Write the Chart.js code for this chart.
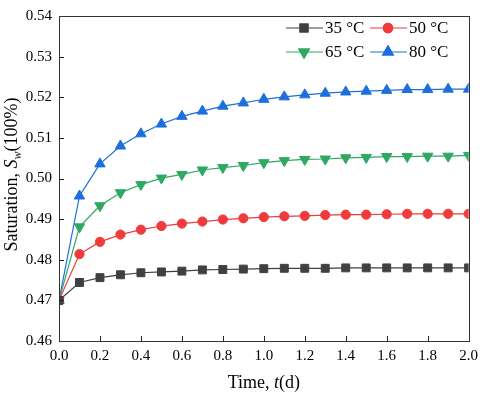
<!DOCTYPE html>
<html>
<head>
<meta charset="utf-8">
<script src="https://cdn.jsdelivr.net/npm/chart.js@4.4.1/dist/chart.umd.min.js"></script>
<style>
  html, body { margin: 0; padding: 0; background: #fff; }
  #wrap { width: 484px; height: 394px; }
</style>
</head>
<body>
<div id="wrap"><canvas id="c" width="484" height="394"></canvas></div>
<script>
// Time (days) and saturation readings for each temperature
const times = [0.0, 0.1, 0.2, 0.3, 0.4, 0.5, 0.6, 0.7, 0.8, 0.9, 1.0, 1.1, 1.2, 1.3, 1.4, 1.5, 1.6, 1.7, 1.8, 1.9, 2.0];
const sat35 = [0.4700, 0.4744, 0.4756, 0.4763, 0.4768, 0.4770, 0.4772, 0.4775, 0.4776, 0.4777, 0.4778, 0.4779, 0.4779, 0.4779, 0.4780, 0.4780, 0.4780, 0.4780, 0.4780, 0.4780, 0.4780];
const sat50 = [0.4700, 0.4814, 0.4844, 0.4862, 0.4874, 0.4883, 0.4889, 0.4894, 0.4899, 0.4902, 0.4905, 0.4907, 0.4908, 0.4910, 0.4911, 0.4911, 0.4912, 0.4913, 0.4913, 0.4913, 0.4913];
const sat65 = [0.4700, 0.4881, 0.4933, 0.4965, 0.4985, 0.5001, 0.5010, 0.5021, 0.5027, 0.5032, 0.5039, 0.5044, 0.5047, 0.5048, 0.5051, 0.5052, 0.5054, 0.5054, 0.5055, 0.5055, 0.5057];
const sat80 = [0.4700, 0.4957, 0.5036, 0.5080, 0.5110, 0.5134, 0.5153, 0.5166, 0.5178, 0.5186, 0.5195, 0.5201, 0.5206, 0.5210, 0.5213, 0.5215, 0.5217, 0.5219, 0.5219, 0.5220, 0.5220];
const seriesNames = ['35 °C', '50 °C', '65 °C', '80 °C'];
const xTicks = { min: 0, max: 2, step: 0.2 };
const yTicks = { min: 0.46, max: 0.54, step: 0.01 };

const FONT = '"Liberation Serif", "Times New Roman", serif';

function pts(vals) {
    return times.map((t, i) => ({ x: t, y: vals[i] }));
}

function makeSet(label, vals, color, style, radius, rotation) {
    return {
        label: label,
        data: pts(vals),
        borderColor: color,
        backgroundColor: color,
        borderWidth: 1.2,
        pointStyle: style,
        pointRadius: radius,
        pointHoverRadius: radius,
        pointRotation: rotation || 0,
        pointBorderWidth: 1,
        tension: 0
    };
}

const datasets = [
    makeSet(seriesNames[0], sat35, '#404040', 'rect', 5.6),
    makeSet(seriesNames[1], sat50, '#f03a3c', 'circle', 4.6),
    makeSet(seriesNames[2], sat65, '#2fa862', 'triangle', 6, 180),
    makeSet(seriesNames[3], sat80, '#1c6fdc', 'triangle', 6)
];

// draws the inward ticks, the frame, axis titles and the 2x2 legend
const extras = {
    id: 'extras',
    afterDraw(chart) {
        const ctx = chart.ctx;
        const a = chart.chartArea;
        const xs = chart.scales.x, ys = chart.scales.y;
        ctx.save();
        ctx.strokeStyle = '#222';
        ctx.lineWidth = 1;
        ctx.beginPath();
        xs.ticks.forEach(t => {
            const px = Math.round(xs.getPixelForValue(t.value)) + 0.5;
            ctx.moveTo(px, a.bottom);
            ctx.lineTo(px, a.bottom - 5);
        });
        ys.ticks.forEach(t => {
            const py = Math.round(ys.getPixelForValue(t.value)) + 0.5;
            ctx.moveTo(a.left, py);
            ctx.lineTo(a.left + 5, py);
        });
        ctx.stroke();
        ctx.strokeStyle = '#333';
        ctx.strokeRect(Math.round(a.left) + 0.5, Math.round(a.top) + 0.5, Math.round(a.right - a.left), Math.round(a.bottom - a.top));

        // x title
        ctx.fillStyle = '#000';
        ctx.textBaseline = 'middle';
        const xParts = [['Time, ', 'normal'], ['t', 'italic'], ['(d)', 'normal']];
        drawParts(ctx, xParts, (a.left + a.right) / 2, 383, 18);

        // y title, rotated
        ctx.save();
        ctx.translate(12, (a.top + a.bottom) / 2 - 4);
        ctx.rotate(-Math.PI / 2);
        const yParts = [['Saturation, ', 'normal'], ['S', 'italic'], ['w', 'italicsub'], ['(100%)', 'normal']];
        drawParts(ctx, yParts, 0, 0, 18);
        ctx.restore();

        // legend
        const cols = [286, 370];
        const rows = [28, 52];
        chart.data.datasets.forEach((ds, i) => {
            const x0 = cols[i % 2], y0 = rows[Math.floor(i / 2)];
            ctx.strokeStyle = ds.borderColor;
            ctx.lineWidth = 1.2;
            ctx.beginPath();
            ctx.moveTo(x0, y0);
            ctx.lineTo(x0 + 37, y0);
            ctx.stroke();
            Chart.helpers.drawPoint(ctx, {
                pointStyle: ds.pointStyle,
                radius: ds.pointRadius,
                rotation: ds.pointRotation,
                borderWidth: 1
            }, x0 + 18, y0);
            ctx.fillStyle = ds.backgroundColor;
            ctx.fill();
            ctx.stroke();
            ctx.fillStyle = '#000';
            ctx.font = '17px ' + FONT;
            ctx.textAlign = 'left';
            ctx.textBaseline = 'middle';
            ctx.fillText(ds.label, x0 + 39, y0 + 1);
        });
        ctx.restore();
    }
};

function drawParts(ctx, parts, cx, cy, size) {
    const fontFor = (st) => {
        if (st === 'italic') return 'italic ' + size + 'px ' + FONT;
        if (st === 'italicsub') return 'italic ' + Math.round(size * 0.65) + 'px ' + FONT;
        return size + 'px ' + FONT;
    };
    let total = 0;
    parts.forEach(p => { ctx.font = fontFor(p[1]); total += ctx.measureText(p[0]).width; });
    let x = cx - total / 2;
    ctx.textAlign = 'left';
    parts.forEach(p => {
        ctx.font = fontFor(p[1]);
        const dy = p[1] === 'italicsub' ? size * 0.3 : 0;
        ctx.fillText(p[0], x, cy + dy);
        x += ctx.measureText(p[0]).width;
    });
}

new Chart(document.getElementById('c'), {
    type: 'line',
    data: { datasets: datasets },
    options: {
        responsive: false,
        animation: false,
        layout: { padding: { top: 6, right: 10, left: 0, bottom: 0 } },
        plugins: {
            legend: { display: false },
            tooltip: { enabled: false }
        },
        scales: {
            x: {
                type: 'linear',
                min: xTicks.min,
                max: xTicks.max,
                afterFit: (s) => { s.height = 53; },
                ticks: {
                    stepSize: xTicks.step,
                    padding: 6,
                    color: '#000',
                    font: { family: FONT, size: 15 },
                    callback: (v) => v.toFixed(1)
                },
                grid: { display: false, drawTicks: false },
                border: { display: true, color: '#333', width: 1 }
            },
            y: {
                min: yTicks.min,
                max: yTicks.max,
                afterFit: (s) => { s.width = 59; },
                ticks: {
                    stepSize: yTicks.step,
                    padding: 7,
                    color: '#000',
                    font: { family: FONT, size: 15 },
                    callback: (v) => v.toFixed(2)
                },
                grid: { display: false, drawTicks: false },
                border: { display: true, color: '#333', width: 1 }
            }
        }
    },
    plugins: [extras]
});
</script>
</body>
</html>
